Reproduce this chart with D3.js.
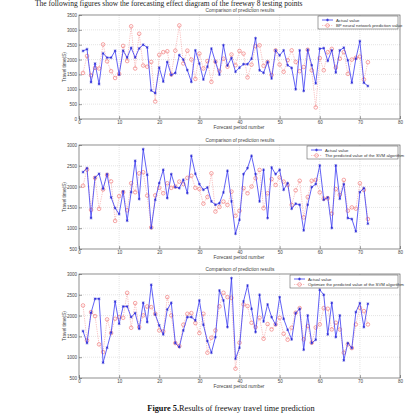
<!DOCTYPE html>
<html>
<head>
<meta charset="utf-8">
<script src="https://cdn.jsdelivr.net/npm/d3@7"></script>
<style>
  body { margin: 0; background: #fff; }
  svg { display: block; }
</style>
</head>
<body>
<script>
var w = 413;
var h = 417;

// forecast periods 1..72
var periods = d3.range(1, 73);

var actual1 = [2290,2350,1240,1865,1175,2210,2065,2065,2295,1490,2300,2066,2395,2070,2375,2500,2410,960,870,1730,
               1260,1920,1480,1550,2150,2000,1645,1250,2310,1865,1330,1760,2370,1925,1495,2485,1800,2050,1590,1730,
               1845,1845,2030,2720,1640,1555,1920,1365,2310,2140,2310,1810,1720,1000,2310,945,2330,1810,1200,2365,
               2385,1955,2310,1565,2310,2400,1975,1220,2030,2620,1220,1110];
var bpPred = [1550,2120,1470,1720,1700,2510,1940,1610,1380,1520,2460,1950,3120,1700,2870,1800,1760,1920,590,2160,
              2250,2280,1500,2300,3150,1870,2300,2000,1350,2200,1700,1950,1250,1930,1610,2030,1760,2170,1810,2290,
              2200,1400,1830,2450,2480,1790,1920,1480,2310,1830,1590,1980,2310,1920,1610,1750,2330,1640,390,2050,
              1640,2250,2360,1730,2030,2250,1520,2000,2060,2100,1330,1910];

var actual2 = [2348,2444,1244,2220,2308,1948,2300,1740,1484,1340,1884,1180,1868,2620,1700,2900,2284,1004,1684,2084,
               2404,1724,2300,1988,1964,2164,1844,2740,2308,2060,1924,1980,1644,1564,1600,1860,2380,1644,868,1204,
               2300,2444,2740,2300,1644,2404,1244,2460,2300,2404,1924,2084,1468,1588,1564,948,1564,1988,2060,2508,
               1684,1740,1004,2508,1708,2060,1244,1220,924,1868,1964,1108];
var svmPred = [2020,2410,1440,2210,1465,1930,2280,2125,1175,1770,1865,1430,2080,1865,2320,2345,1785,1020,1790,1970,
               1840,2080,1970,2000,2120,2060,2210,2260,1970,1940,1590,1750,2320,1400,1510,1640,1560,1880,1300,1420,
               1960,1840,2000,2200,2400,1480,1840,2180,2040,2220,2120,2040,1560,1910,2140,1260,1750,2140,2160,1860,
               1710,1720,1350,1940,1800,2160,1420,1500,1470,2080,1920,1220];

var actual3 = [1628,1340,2068,2404,2404,868,1228,1588,2340,1804,2220,2220,1964,2060,1684,2308,1844,2740,2028,1764,
               1548,2148,2308,1340,1244,1644,1964,1964,1884,2364,1780,1388,1108,1484,2604,2364,1724,2900,964,1228,
               2340,2724,2164,1604,2500,1860,2268,1964,1780,2444,1924,1660,1428,2060,2164,1180,2004,1340,1420,2620,
               2500,1548,2308,1484,2004,924,1340,1220,2084,2300,1724,2284];
var optPred = [2244,1404,2084,1988,1308,1124,1908,1580,1924,1964,1948,2548,1708,2300,1724,2004,2220,2204,2044,1644,
               1620,2444,2004,1340,1268,1780,2044,2060,1820,1580,2044,1108,1468,1644,2220,2548,2444,2428,724,1348,
               2268,2228,1828,1724,1948,1444,1796,1668,1788,1948,1564,1420,1708,2068,2180,1428,1748,1348,1716,1788,
               2180,2164,1668,1828,1668,1108,1308,1220,1788,2188,2108,1788];

var xTicks = [0, 10, 20, 30, 40, 50, 60, 70, 80];
var yTicks1 = [0, 500, 1000, 1500, 2000, 2500, 3000, 3500];
var yTicks2 = [500, 1000, 1500, 2000, 2500, 3000];

var panels = [
  {top: 15, bottom: 119, yDomain: [0, 3500], yTicks: yTicks1, actual: actual1, pred: bpPred,
   predLabel: "BP neural network prediction value", legendX: 318, legendW: 80},
  {top: 145, bottom: 249, yDomain: [500, 3000], yTicks: yTicks2, actual: actual2, pred: svmPred,
   predLabel: "The predicted value of the SVM algorithm", legendX: 307, legendW: 91},
  {top: 274, bottom: 378, yDomain: [500, 3000], yTicks: yTicks2, actual: actual3, pred: optPred,
   predLabel: "Optimize the predicted value of the SVM algorithm", legendX: 290, legendW: 108}
];

var left = 79;
var right = 400;
var blue = "#3a3af2";
var red = "#ee6a6a";
var fnt = "Liberation Sans, Arial, sans-serif";

var svg = d3.select("body")
    .append("svg")
        .attr("width", w)
        .attr("height", h);

svg.append("rect").attr("width", w).attr("height", h).attr("fill", "#fff");

// line of body text above the figure
svg.append("text")
    .text("The following figures show the forecasting effect diagram of the freeway 8 testing points")
    .attr("x", 35)
    .attr("y", 5.5)
    .attr("font-family", "Liberation Serif, serif")
    .attr("font-size", 7.5)
    .attr("fill", "#222");

var x = d3.scaleLinear().domain([0, 80]).range([left, right]);

panels.forEach(function(p) {
    var y = d3.scaleLinear().domain(p.yDomain).range([p.bottom, p.top]);
    var g = svg.append("g");

    // grid
    g.selectAll(".vg").data(xTicks.slice(1, -1)).enter().append("line")
        .attr("x1", function(d) { return x(d); })
        .attr("x2", function(d) { return x(d); })
        .attr("y1", p.top).attr("y2", p.bottom)
        .attr("stroke", "#c8c8c8").attr("stroke-width", 0.5).attr("stroke-dasharray", "1,1");
    g.selectAll(".hg").data(p.yTicks.slice(1, -1)).enter().append("line")
        .attr("y1", function(d) { return y(d); })
        .attr("y2", function(d) { return y(d); })
        .attr("x1", left).attr("x2", right)
        .attr("stroke", "#c8c8c8").attr("stroke-width", 0.5).attr("stroke-dasharray", "1,1");

    // axes
    var xAxis = d3.axisBottom(x).tickValues(xTicks).tickSize(-3).tickPadding(2).tickFormat(d3.format("d"));
    var yAxis = d3.axisLeft(y).tickValues(p.yTicks).tickSize(-3).tickPadding(2).tickFormat(d3.format("d"));
    var xg = g.append("g").attr("transform", "translate(0," + p.bottom + ")").call(xAxis);
    var yg = g.append("g").attr("transform", "translate(" + left + ",0)").call(yAxis);
    [xg, yg].forEach(function(a) {
        a.select(".domain").remove();
        a.selectAll("line").attr("stroke", "#444").attr("stroke-width", 0.5);
        a.selectAll("text").attr("font-family", fnt).attr("font-size", 4.5).attr("fill", "#444");
    });
    g.append("rect")
        .attr("x", left).attr("y", p.top)
        .attr("width", right - left).attr("height", p.bottom - p.top)
        .attr("fill", "none").attr("stroke", "#444").attr("stroke-width", 0.6);

    // title and labels
    g.append("text").text("Comparison of prediction results")
        .attr("x", 240).attr("y", p.top - 3)
        .attr("text-anchor", "middle").attr("font-family", fnt).attr("font-size", 4.8).attr("fill", "#444");
    g.append("text").text("Forecast period number")
        .attr("x", 239).attr("y", p.bottom + 10)
        .attr("text-anchor", "middle").attr("font-family", fnt).attr("font-size", 4.8).attr("fill", "#444");
    g.append("text").text("Travel time(S)")
        .attr("transform", "translate(66," + ((p.top + p.bottom) / 2) + ") rotate(-90)")
        .attr("text-anchor", "middle").attr("font-family", fnt).attr("font-size", 4.8).attr("fill", "#444");

    // predicted series: dotted red line with circles
    var seriesLine = d3.line()
        .x(function(d, i) { return x(periods[i]); })
        .y(function(d) { return y(d); });
    g.append("path").datum(p.pred)
        .attr("d", seriesLine)
        .attr("fill", "none").attr("stroke", red).attr("stroke-width", 0.5)
        .attr("stroke-dasharray", "0.8,1");
    g.selectAll(".pc").data(p.pred).enter().append("circle")
        .attr("cx", function(d, i) { return x(periods[i]); })
        .attr("cy", function(d) { return y(d); })
        .attr("r", 1.8)
        .attr("fill", "none").attr("stroke", red).attr("stroke-width", 0.6);

    // actual series: solid blue line with stars
    g.append("path").datum(p.actual)
        .attr("d", seriesLine)
        .attr("fill", "none").attr("stroke", blue).attr("stroke-width", 0.8);
    var star = d3.symbol().type(d3.symbolAsterisk).size(6);
    g.selectAll(".as").data(p.actual).enter().append("path")
        .attr("d", star)
        .attr("transform", function(d, i) { return "translate(" + x(periods[i]) + "," + y(d) + ")"; })
        .attr("fill", "none").attr("stroke", "#2020d0").attr("stroke-width", 0.6);

    // legend
    var lx = p.legendX;
    var ly = p.top + 1;
    var lg = g.append("g");
    lg.append("rect").attr("x", lx).attr("y", ly).attr("width", p.legendW).attr("height", 13)
        .attr("fill", "#fff").attr("stroke", "#444").attr("stroke-width", 0.5);
    lg.append("line").attr("x1", lx + 4).attr("x2", lx + 15).attr("y1", ly + 4).attr("y2", ly + 4)
        .attr("stroke", blue).attr("stroke-width", 0.8);
    lg.append("path").attr("d", star).attr("transform", "translate(" + (lx + 9.5) + "," + (ly + 4) + ")")
        .attr("fill", "none").attr("stroke", "#2020d0").attr("stroke-width", 0.6);
    lg.append("line").attr("x1", lx + 4).attr("x2", lx + 15).attr("y1", ly + 9.5).attr("y2", ly + 9.5)
        .attr("stroke", red).attr("stroke-width", 0.5).attr("stroke-dasharray", "0.8,1");
    lg.append("circle").attr("cx", lx + 9.5).attr("cy", ly + 9.5).attr("r", 1.8)
        .attr("fill", "none").attr("stroke", red).attr("stroke-width", 0.6);
    lg.append("text").text("Actual value")
        .attr("x", lx + 18).attr("y", ly + 5.6)
        .attr("font-family", fnt).attr("font-size", 4.3).attr("fill", "#333");
    lg.append("text").text(p.predLabel)
        .attr("x", lx + 18).attr("y", ly + 11.1)
        .attr("font-family", fnt).attr("font-size", 4.3).attr("fill", "#333");
});

// caption
var cap = svg.append("text")
    .attr("x", 231).attr("y", 411)
    .attr("text-anchor", "middle")
    .attr("font-family", "Liberation Serif, serif")
    .attr("font-size", 8.3)
    .attr("fill", "#111");
cap.append("tspan").attr("font-weight", "bold").text("Figure 5.");
cap.append("tspan").text("Results of freeway travel time prediction");
</script>
</body>
</html>
